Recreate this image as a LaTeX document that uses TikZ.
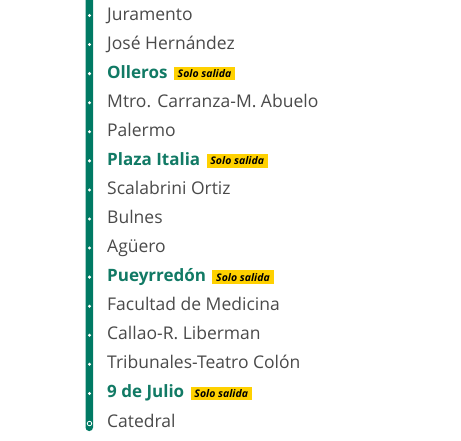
\documentclass[tikz,border=0pt]{standalone}
\usepackage{fontspec}
\setmainfont{Open Sans}
\definecolor{lineg}{HTML}{007A64}
\definecolor{txtg}{HTML}{117A65}
\definecolor{txtk}{HTML}{4A4A4A}
\definecolor{badge}{HTML}{FFD100}
\begin{document}
\begin{tikzpicture}[x=1pt,y=-1pt,
  stn/.style={anchor=base west,inner sep=0pt,font=\fontsize{17.5}{19}\selectfont,text=txtk},
  hub/.style={anchor=base west,inner sep=0pt,font=\fontsize{17}{19}\selectfont\bfseries,text=txtg},
  solo/.style={anchor=west,fill=badge,inner xsep=3.8pt,inner ysep=2.8pt,font=\fontsize{10.5}{11}\selectfont\bfseries\itshape,text=black},
  dot/.style={circle,fill=white,inner sep=0pt,minimum size=3.3pt}]
\useasboundingbox (0,0) rectangle (461,440);
\fill[white] (0,0) rectangle (461,440);
\fill[lineg,rounded corners=3.5pt] (85.5,-10) rectangle (93,431);
\foreach \i in {1,...,14}
  \node[dot] (d\i) at (89.5,{15.5+29.07*(\i-1)}) {};
\node[circle,draw=white,line width=0.8pt,inner sep=0pt,minimum size=4.5pt] (d15) at (89.5,423.5) {};
\node[stn] (s1) at (107,20) {Juramento};
\node[stn] (s2) at (107,49.07) {José Hernández};
\node[hub] (s3) at (107,78.14) {Olleros};
\node[solo] (b3) at ([xshift=6pt,yshift=4.5pt]s3.base east) {Solo salida};
\node[stn] (s4) at (107,107.21) {Mtro. Carranza-M. Abuelo};
\node[stn] (s5) at (107,136.28) {Palermo};
\node[hub] (s6) at (107,165.35) {Plaza Italia};
\node[solo] (b6) at ([xshift=6pt,yshift=4.5pt]s6.base east) {Solo salida};
\node[stn] (s7) at (107,194.42) {Scalabrini Ortiz};
\node[stn] (s8) at (107,223.49) {Bulnes};
\node[stn] (s9) at (107,252.56) {Agüero};
\node[hub] (s10) at (107,281.63) {Pueyrredón};
\node[solo] (b10) at ([xshift=6pt,yshift=4.5pt]s10.base east) {Solo salida};
\node[stn] (s11) at (107,310.7) {Facultad de Medicina};
\node[stn] (s12) at (107,339.77) {Callao-R. Liberman};
\node[stn] (s13) at (107,368.84) {Tribunales-Teatro Colón};
\node[hub] (s14) at (107,397.91) {9 de Julio};
\node[solo] (b14) at ([xshift=6pt,yshift=4.5pt]s14.base east) {Solo salida};
\node[stn] (s15) at (107,427) {Catedral};
\end{tikzpicture}
\end{document}
